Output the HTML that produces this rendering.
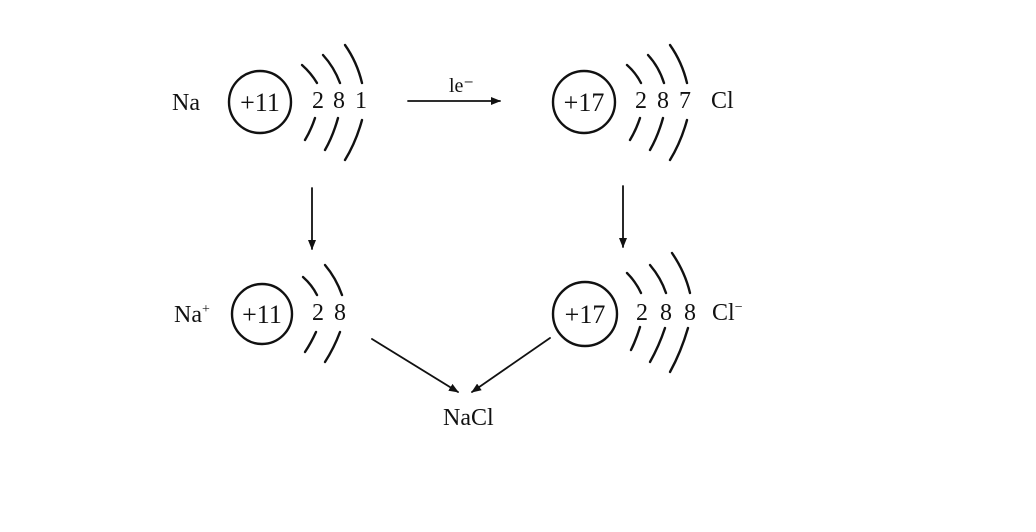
<!DOCTYPE html>
<html><head><meta charset="utf-8"><style>
html,body{margin:0;padding:0;background:#fff;}
svg{display:block}
text{font-family:"Liberation Serif",serif;fill:#111;}
</style></head><body>
<svg width="1036" height="532" viewBox="0 0 1036 532" xmlns="http://www.w3.org/2000/svg">
<rect width="1036" height="532" fill="#fff"/>
<defs><marker id="ah" markerWidth="10" markerHeight="8" refX="9" refY="4" orient="auto" markerUnits="userSpaceOnUse"><path d="M0,0 L10,4 L0,8 Z" fill="#111"/></marker></defs>
<g stroke="#111" stroke-width="2.4" fill="none" stroke-linecap="round">
<circle cx="260" cy="102" r="31"/>
<path d="M302,65 Q311,73 317,83"/><path d="M315,118 Q311,130 305,140"/>
<path d="M323,55 Q334,67 340,83"/><path d="M338,118 Q333,136 325,150"/>
<path d="M345,45 Q357,62 362,83"/><path d="M362,120 Q356,142 345,160"/>
<circle cx="584" cy="102" r="31"/>
<path d="M627,65 Q636,73 641,83"/><path d="M640,118 Q636,130 630,140"/>
<path d="M648,55 Q659,67 664,83"/><path d="M663,118 Q658,136 650,150"/>
<path d="M670,45 Q682,62 687,83"/><path d="M687,120 Q681,142 670,160"/>
<circle cx="262" cy="314" r="30"/>
<path d="M303,277 Q312,285 317,295"/><path d="M316,332 Q311,343 305,352"/>
<path d="M325,265 Q336,278 342,295"/><path d="M340,332 Q334,348 325,362"/>
<circle cx="585" cy="314" r="32"/>
<path d="M627,273 Q636,282 641,293"/><path d="M640,327 Q636,340 631,350"/>
<path d="M650,265 Q661,278 666,293"/><path d="M665,328 Q659,346 650,362"/>
<path d="M672,253 Q685,272 690,293"/><path d="M688,328 Q681,352 670,372"/>
<line x1="408" y1="101" x2="500" y2="101" stroke-width="1.8" marker-end="url(#ah)"/>
<line x1="312" y1="188" x2="312" y2="249" stroke-width="1.8" marker-end="url(#ah)"/>
<line x1="623" y1="186" x2="623" y2="247" stroke-width="1.8" marker-end="url(#ah)"/>
<line x1="372" y1="339" x2="458" y2="392" stroke-width="1.8" marker-end="url(#ah)"/>
<line x1="550" y1="338" x2="472" y2="392" stroke-width="1.8" marker-end="url(#ah)"/>
</g>
<g font-size="24">
<text x="172" y="110">Na</text>
<text x="260" y="111" text-anchor="middle" font-size="26">+11</text>
<text x="318" y="108" text-anchor="middle">2</text>
<text x="339" y="108" text-anchor="middle">8</text>
<text x="361" y="108" text-anchor="middle">1</text>
<text x="449" y="92" font-size="20">le⁻</text>
<text x="584" y="111" text-anchor="middle" font-size="26">+17</text>
<text x="641" y="108" text-anchor="middle">2</text>
<text x="663" y="108" text-anchor="middle">8</text>
<text x="685" y="108" text-anchor="middle">7</text>
<text x="711" y="108">Cl</text>
<text x="174" y="322">Na<tspan font-size="14" dy="-9">+</tspan></text>
<text x="262" y="323" text-anchor="middle" font-size="26">+11</text>
<text x="318" y="320" text-anchor="middle">2</text>
<text x="340" y="320" text-anchor="middle">8</text>
<text x="585" y="323" text-anchor="middle" font-size="26">+17</text>
<text x="642" y="320" text-anchor="middle">2</text>
<text x="666" y="320" text-anchor="middle">8</text>
<text x="690" y="320" text-anchor="middle">8</text>
<text x="712" y="320">Cl<tspan font-size="14" dy="-9">−</tspan></text>
<text x="443" y="425">NaCl</text>
</g>
</svg>
</body></html>
